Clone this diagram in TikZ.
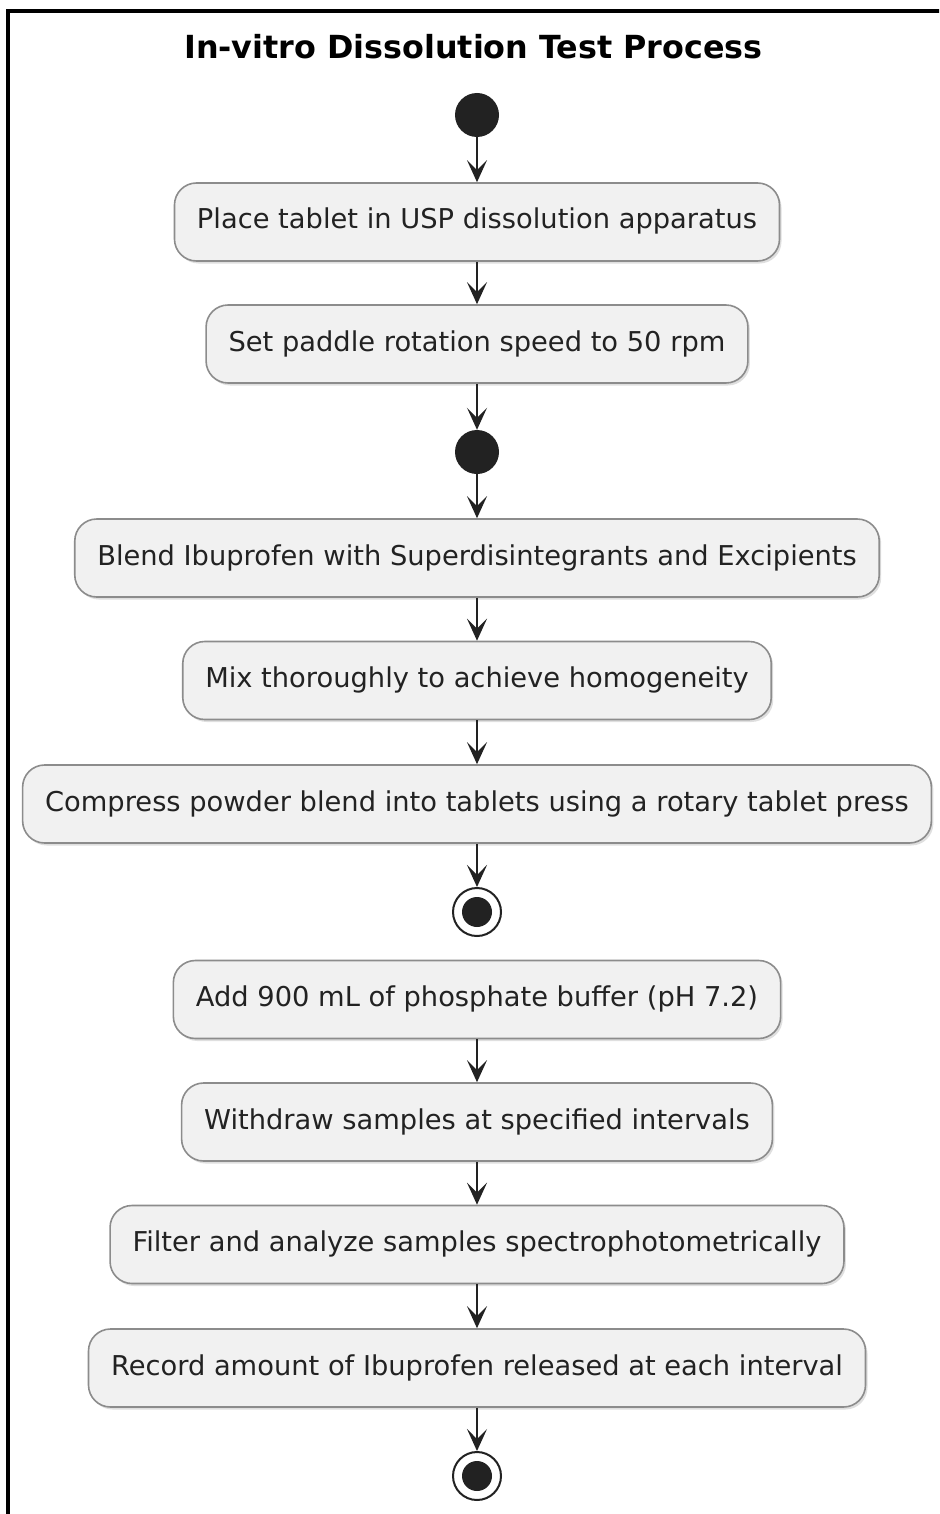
\documentclass[tikz,border=0pt]{standalone}
\usepackage{fontspec}
\setmainfont{DejaVu Sans}
\usetikzlibrary{arrows.meta,shadows}
\definecolor{boxfill}{HTML}{F1F1F1}
\definecolor{boxline}{HTML}{8C8C8C}
\definecolor{ink}{HTML}{222222}
\begin{document}
\begin{tikzpicture}[x=1pt,y=-1pt,
  act/.style={draw=boxline, line width=1.6pt, fill=boxfill, rounded corners=22pt,
    minimum height=78pt, inner xsep=22.5pt, text height=20.5pt, text depth=6.5pt,
    font=\fontsize{27.3}{32}\selectfont, text=ink,
    drop shadow={shadow xshift=2pt, shadow yshift=-2.5pt, opacity=0.25}},
  startnode/.style={circle, fill=ink, minimum size=44pt, inner sep=0pt},
  endnode/.style={circle, draw=ink, line width=2pt, fill=white, minimum size=48pt, inner sep=0pt},
  arr/.style={draw=ink, line width=1.6pt, -{Stealth[length=22pt,width=20pt,inset=10pt]}}
]
\useasboundingbox (0,0) rectangle (939,1514);
\clip (0,0) rectangle (939,1514);
\fill[white] (0,0) rectangle (939,1514);
\draw[line width=4pt, black] (7.5,11) rectangle (960,1540);

\node[font=\bfseries\fontsize{31.8}{36}\selectfont, text=black] (title) at (473.5,47) {In-vitro Dissolution Test Process};

\node[startnode] (s1) at (477,115) {};
\node[act] (b1) at (477,222) {Place tablet in USP dissolution apparatus};
\node[act] (b2) at (477,344) {Set paddle rotation speed to 50 rpm};
\node[startnode] (s2) at (477,452) {};
\node[act] (b3) at (477,558) {Blend Ibuprofen with Superdisintegrants and Excipients};
\node[act] (b4) at (477,680.5) {Mix thoroughly to achieve homogeneity};
\node[act] (b5) at (477,804) {Compress powder blend into tablets using a rotary tablet press};
\node[endnode] (e1) at (477,912) {};
\fill[ink] (e1.center) circle (15pt);
\node[act] (b6) at (477,999.5) {Add 900 mL of phosphate buffer (pH 7.2)};
\node[act] (b7) at (477,1122) {Withdraw samples at specified intervals};
\node[act] (b8) at (477,1244.5) {Filter and analyze samples spectrophotometrically};
\node[act] (b9) at (477,1368) {Record amount of Ibuprofen released at each interval};
\node[endnode] (e2) at (477,1476) {};
\fill[ink] (e2.center) circle (15pt);

\draw[arr] (s1) -- (b1);
\draw[arr] (b1) -- (b2);
\draw[arr] (b2) -- (s2);
\draw[arr] (s2) -- (b3);
\draw[arr] (b3) -- (b4);
\draw[arr] (b4) -- (b5);
\draw[arr] (b5) -- (e1);
\draw[arr] (b6) -- (b7);
\draw[arr] (b7) -- (b8);
\draw[arr] (b8) -- (b9);
\draw[arr] (b9) -- (e2);
\end{tikzpicture}
\end{document}
